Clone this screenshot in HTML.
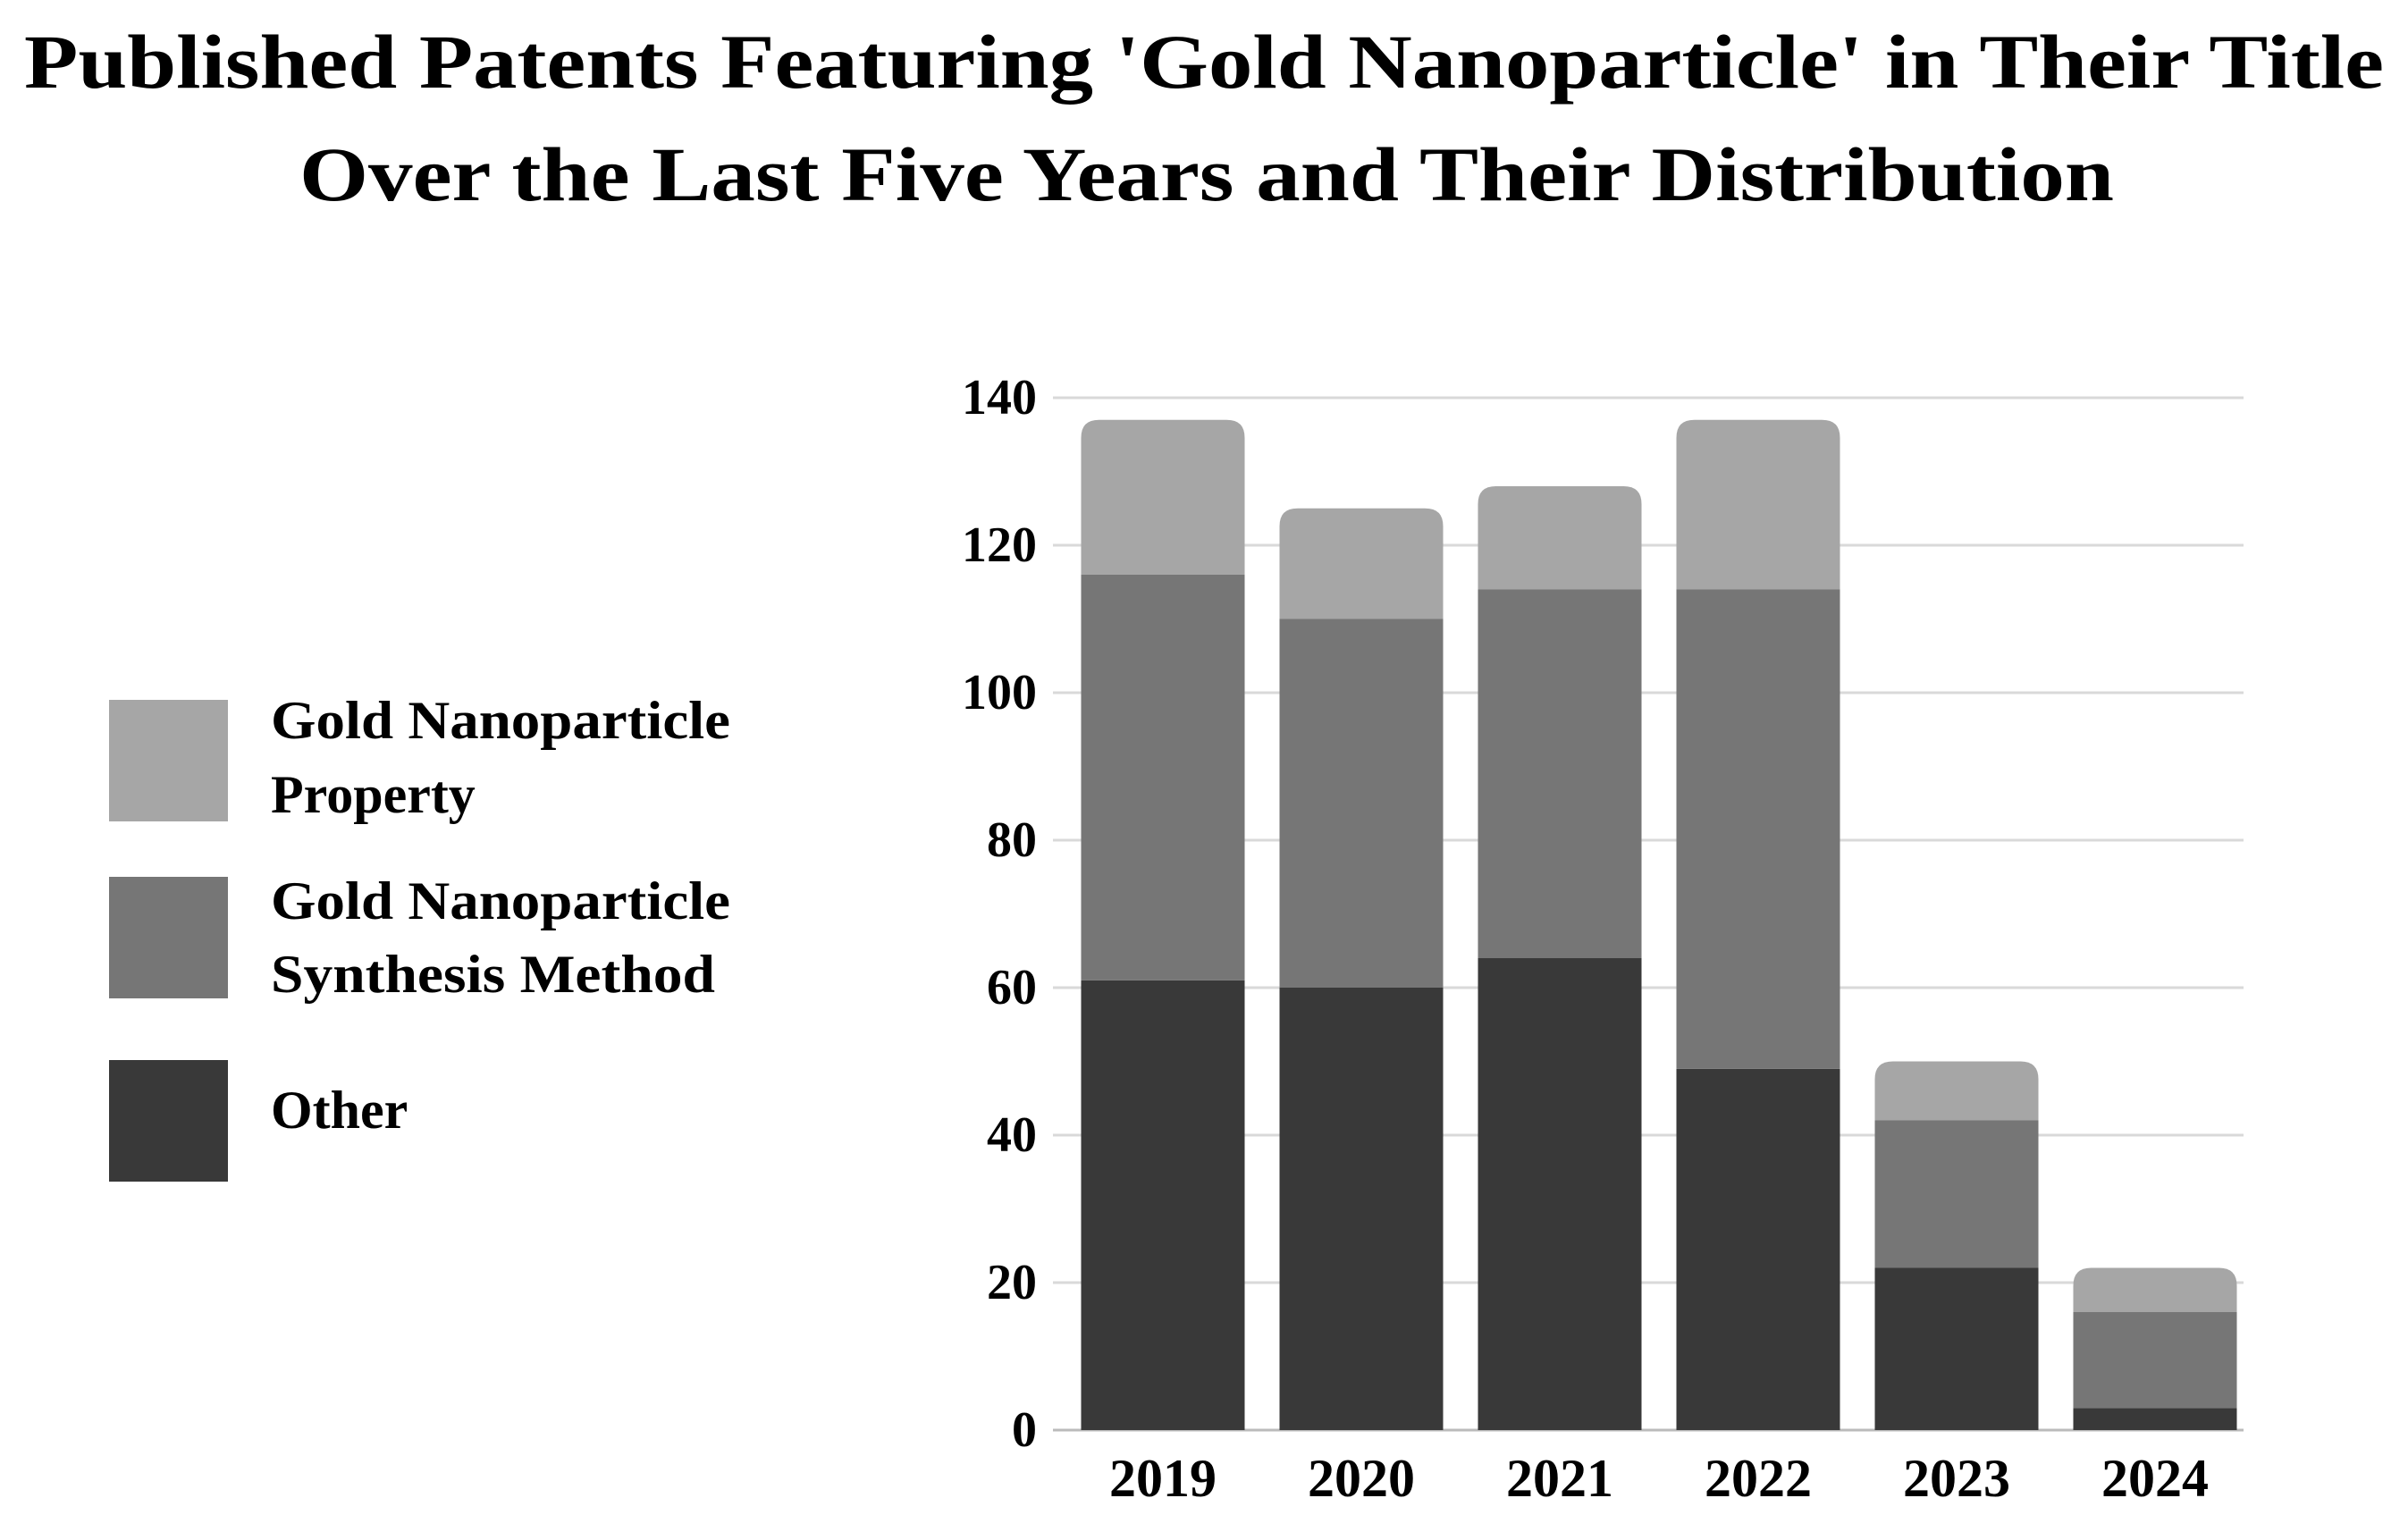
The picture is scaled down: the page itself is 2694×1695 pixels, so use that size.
<!DOCTYPE html>
<html><head><meta charset="utf-8"><style>
html,body{margin:0;padding:0;background:#fff;}
svg{display:block;font-family:"Liberation Serif",serif;font-weight:bold;}
</style></head><body>
<svg id="chart" width="2694" height="1695" viewBox="0 0 2694 1695">
<g>
<text x="1347" y="98" text-anchor="middle" font-size="86" textLength="2640" lengthAdjust="spacingAndGlyphs">Published Patents Featuring 'Gold Nanoparticle' in Their Title</text>
<text x="1350" y="224" text-anchor="middle" font-size="86" textLength="2030" lengthAdjust="spacingAndGlyphs">Over the Last Five Years and Their Distribution</text>
</g>
<g id="grid"></g>
<g id="bars"></g>
<g id="yaxis"></g>
<g id="xaxis"></g>
<g>
<rect x="122" y="783" width="133" height="136" fill="#a6a6a6"/>
<text x="303" y="826" font-size="60" textLength="514" lengthAdjust="spacingAndGlyphs">Gold Nanoparticle</text>
<text x="303" y="909" font-size="60">Property</text>
<rect x="122" y="981" width="133" height="136" fill="#767676"/>
<text x="303" y="1028" font-size="60" textLength="514" lengthAdjust="spacingAndGlyphs">Gold Nanoparticle</text>
<text x="303" y="1110" font-size="60" textLength="497" lengthAdjust="spacingAndGlyphs">Synthesis Method</text>
<rect x="122" y="1186" width="133" height="136" fill="#393939"/>
<text x="303" y="1262" font-size="60">Other</text>
</g>
</svg>
<script>
const years = ["2019","2020","2021","2022","2023","2024"];
const other = [61,60,64,49,22,3];
const synthesis = [55,50,50,65,20,13];
const property = [21,15,14,23,8,6];
const yTicks = [0,20,40,60,80,100,120,140];

const NS="http://www.w3.org/2000/svg";
const x0=1178, x1=2510, yBase=1600, yTop=445, yMax=140;
const y=v=>yBase-(v/yMax)*(yBase-yTop);
const band=(x1-x0)/years.length, bw=183;
const xc=i=>x0+band*(i+0.5)+12;
function mk(tag,attrs,parent){const e=document.createElementNS(NS,tag);for(const k in attrs)e.setAttribute(k,attrs[k]);parent.appendChild(e);return e;}
const grid=document.getElementById('grid'), yaxis=document.getElementById('yaxis'), xaxis=document.getElementById('xaxis'), bars=document.getElementById('bars');
yTicks.forEach(t=>{
  const l=mk('line',{x1:x0,x2:x1,y1:y(t),y2:y(t),stroke:t===0?'#bbbbbb':'#d9d9d9','stroke-width':3},grid);
  
  
  const tx=mk('text',{x:1160,y:y(t)+18,'text-anchor':'end','font-size':56},yaxis);
  tx.textContent=t;
  
  
});
const series=[[other,'#393939','other'],[synthesis,'#767676','synthesis'],[property,'#a6a6a6','property']];
years.forEach((yr,i)=>{
  let cum=0;
  const left=xc(i)-bw/2;
  series.forEach(([arr,col,nm],si)=>{
    const v=arr[i], top=y(cum+v), bot=y(cum);
    let el;
    if(si===2){
      const r=Math.min(20,(bot-top));
      el=mk('path',{d:`M${left},${bot} V${top+r} Q${left},${top} ${left+r},${top} H${left+bw-r} Q${left+bw},${top} ${left+bw},${top+r} V${bot} Z`,fill:col},bars);
    } else {
      el=mk('rect',{x:left,y:top,width:bw,height:bot-top,fill:col},bars);
    }
    
    
    cum+=v;
  });
  const tx=mk('text',{x:xc(i),y:1674,'text-anchor':'middle','font-size':60},xaxis);
  tx.textContent=yr;
  
  
});
</script>
</body></html>
